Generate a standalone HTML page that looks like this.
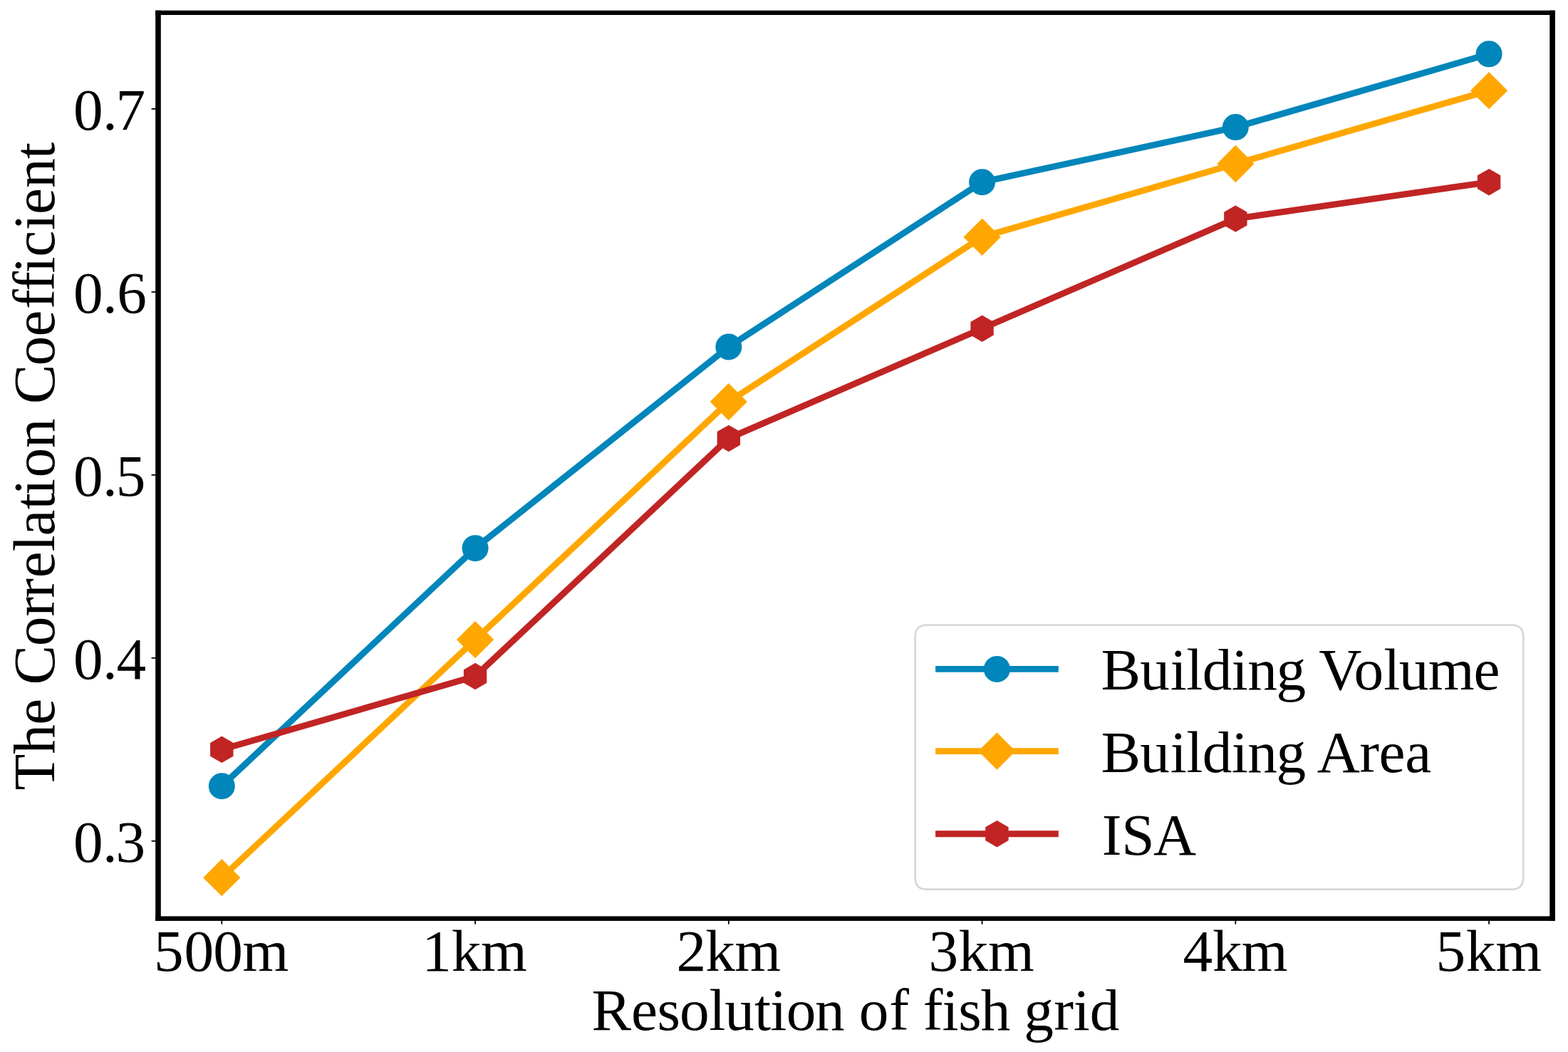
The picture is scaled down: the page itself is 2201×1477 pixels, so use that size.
<!DOCTYPE html>
<html lang="en"><head><meta charset="utf-8"><title>The Correlation Coefficient vs Resolution of fish grid</title>
<style>
html,body{margin:0;padding:0;background:#fff;}
body{width:2201px;height:1477px;overflow:hidden;}
svg{display:block;}
text{font-family:"Liberation Serif","Times New Roman",serif;font-size:83.33px;fill:#000;font-kerning:none;font-variant-ligatures:none;font-feature-settings:"liga" 0,"kern" 0;white-space:pre;}
</style></head><body>
<svg width="2201" height="1477" viewBox="0 0 2201 1477">
<rect x="0" y="0" width="2201" height="1477" fill="#fff"/>
<g id="series">
<polyline points="311.30,1103.70 667.06,769.64 1022.82,486.97 1378.58,255.70 1734.34,178.61 2090.10,75.82" fill="none" stroke="#0086ba" stroke-width="8.9" stroke-linejoin="round" stroke-linecap="square"/>
<circle cx="311.30" cy="1103.70" r="17.10" fill="#0086ba" stroke="#0086ba" stroke-width="2.78"/>
<circle cx="667.06" cy="769.64" r="17.10" fill="#0086ba" stroke="#0086ba" stroke-width="2.78"/>
<circle cx="1022.82" cy="486.97" r="17.10" fill="#0086ba" stroke="#0086ba" stroke-width="2.78"/>
<circle cx="1378.58" cy="255.70" r="17.10" fill="#0086ba" stroke="#0086ba" stroke-width="2.78"/>
<circle cx="1734.34" cy="178.61" r="17.10" fill="#0086ba" stroke="#0086ba" stroke-width="2.78"/>
<circle cx="2090.10" cy="75.82" r="17.10" fill="#0086ba" stroke="#0086ba" stroke-width="2.78"/>
<polyline points="311.30,1232.18 667.06,898.12 1022.82,564.06 1378.58,332.79 1734.34,230.00 2090.10,127.21" fill="none" stroke="#ffa700" stroke-width="8.9" stroke-linejoin="round" stroke-linecap="square"/>
<polygon points="311.30,1208.00 335.48,1232.18 311.30,1256.36 287.12,1232.18" fill="#ffa700" stroke="#ffa700" stroke-width="2.78" stroke-linejoin="miter"/>
<polygon points="667.06,873.94 691.24,898.12 667.06,922.30 642.88,898.12" fill="#ffa700" stroke="#ffa700" stroke-width="2.78" stroke-linejoin="miter"/>
<polygon points="1022.82,539.88 1047.00,564.06 1022.82,588.24 998.64,564.06" fill="#ffa700" stroke="#ffa700" stroke-width="2.78" stroke-linejoin="miter"/>
<polygon points="1378.58,308.60 1402.76,332.79 1378.58,356.97 1354.40,332.79" fill="#ffa700" stroke="#ffa700" stroke-width="2.78" stroke-linejoin="miter"/>
<polygon points="1734.34,205.82 1758.52,230.00 1734.34,254.18 1710.16,230.00" fill="#ffa700" stroke="#ffa700" stroke-width="2.78" stroke-linejoin="miter"/>
<polygon points="2090.10,103.03 2114.28,127.21 2090.10,151.40 2065.92,127.21" fill="#ffa700" stroke="#ffa700" stroke-width="2.78" stroke-linejoin="miter"/>
<polyline points="311.30,1052.30 667.06,949.52 1022.82,615.45 1378.58,461.27 1734.34,307.09 2090.10,255.70" fill="none" stroke="#c02524" stroke-width="8.9" stroke-linejoin="round" stroke-linecap="square"/>
<polygon points="311.30,1035.20 296.49,1043.75 296.49,1060.85 311.30,1069.40 326.11,1060.85 326.11,1043.75" fill="#c02524" stroke="#c02524" stroke-width="2.78" stroke-linejoin="miter"/>
<polygon points="667.06,932.42 652.25,940.97 652.25,958.07 667.06,966.62 681.87,958.07 681.87,940.97" fill="#c02524" stroke="#c02524" stroke-width="2.78" stroke-linejoin="miter"/>
<polygon points="1022.82,598.35 1008.01,606.90 1008.01,624.00 1022.82,632.55 1037.63,624.00 1037.63,606.90" fill="#c02524" stroke="#c02524" stroke-width="2.78" stroke-linejoin="miter"/>
<polygon points="1378.58,444.17 1363.77,452.72 1363.77,469.82 1378.58,478.37 1393.39,469.82 1393.39,452.72" fill="#c02524" stroke="#c02524" stroke-width="2.78" stroke-linejoin="miter"/>
<polygon points="1734.34,289.99 1719.53,298.54 1719.53,315.64 1734.34,324.19 1749.15,315.64 1749.15,298.54" fill="#c02524" stroke="#c02524" stroke-width="2.78" stroke-linejoin="miter"/>
<polygon points="2090.10,238.60 2075.29,247.15 2075.29,264.25 2090.10,272.80 2104.91,264.25 2104.91,247.15" fill="#c02524" stroke="#c02524" stroke-width="2.78" stroke-linejoin="miter"/>
</g>
<g id="spines" fill="#000">
<rect x="218.2" y="14.7" width="7.60" height="1278.20"/>
<rect x="2175.3" y="14.7" width="7.60" height="1278.20"/>
<rect x="218.2" y="14.7" width="1964.70" height="6.30"/>
<rect x="218.2" y="1286.4" width="1964.70" height="6.50"/>
</g>
<g id="ticks" fill="#000">
<rect x="212.6" y="1179.89" width="7" height="1.8"/>
<rect x="212.6" y="922.92" width="7" height="1.8"/>
<rect x="212.6" y="665.95" width="7" height="1.8"/>
<rect x="212.6" y="408.98" width="7" height="1.8"/>
<rect x="212.6" y="152.01" width="7" height="1.8"/>
<rect x="310.40" y="1290" width="1.8" height="7.6"/>
<rect x="666.16" y="1290" width="1.8" height="7.6"/>
<rect x="1021.92" y="1290" width="1.8" height="7.6"/>
<rect x="1377.68" y="1290" width="1.8" height="7.6"/>
<rect x="1733.44" y="1290" width="1.8" height="7.6"/>
<rect x="2089.20" y="1290" width="1.8" height="7.6"/>
</g>
<text x="103.07 144.03 162.47" y="181.91">0.7</text>
<text x="103.07 144.03 164.37" y="438.88">0.6</text>
<text x="103.07 144.03 162.67" y="695.85">0.5</text>
<text x="103.07 144.03 163.40" y="952.82">0.4</text>
<text x="103.07 144.03 162.50" y="1209.79">0.3</text>
<text x="216.02 258.47 299.37 340.47" y="1362.80">500m</text>
<text x="592.36 633.82 674.97" y="1362.80">1km</text>
<text x="949.39 990.22 1031.17" y="1362.80">2km</text>
<text x="1303.55 1345.62 1386.97" y="1362.80">3km</text>
<text x="1660.40 1702.12 1742.82" y="1362.80">4km</text>
<text x="2015.57 2057.72 2099.27" y="1362.80">5km</text>
<text x="830.62 886.07 922.43 953.92 995.17 1017.28 1058.91 1081.29 1103.67 1144.04 1185.71 1205.67 1248.24 1275.99 1295.74 1322.49 1345.23 1376.76 1418.42 1437.17 1479.26 1506.79 1529.67" y="1446.20">Resolution of fish grid</text>
<g transform="translate(76.4,1200.0) rotate(-90)"><text x="90.44 141.16 182.17 219.16 238.45 292.77 334.31 360.31 388.82 425.62 447.61 484.71 504.79 529.47 570.74 612.41 632.75 686.52 727.62 766.04 791.29 816.54 839.30 876.89 898.97 936.09 977.01" y="0.00">The Correlation Coefficient</text></g>
<path d="M1301.26,877.50 L2121.60,877.50 Q2138.30,877.50 2138.30,894.20 L2138.30,1231.90 Q2138.30,1248.60 2121.60,1248.60 L1301.26,1248.60 Q1284.56,1248.60 1284.56,1231.90 L1284.56,894.20 Q1284.56,877.50 1301.26,877.50 Z" fill="#fff" stroke="#d6d6d6" stroke-width="2.6"/>
<line x1="1313.1" y1="939.4" x2="1485.8" y2="939.4" stroke="#0086ba" stroke-width="8.9"/>
<circle cx="1399.40" cy="939.40" r="17.10" fill="#0086ba" stroke="#0086ba" stroke-width="2.78"/>
<text x="1545.39 1600.13 1642.79 1665.37 1687.87 1728.69 1751.19 1791.47 1833.14 1851.31 1900.62 1942.37 1963.68 2004.67 2068.62" y="968.00">Building Volume</text>
<line x1="1313.1" y1="1054.6" x2="1485.8" y2="1054.6" stroke="#ffa700" stroke-width="8.9"/>
<polygon points="1399.40,1030.42 1423.58,1054.60 1399.40,1078.78 1375.22,1054.60" fill="#ffa700" stroke="#ffa700" stroke-width="2.78" stroke-linejoin="miter"/>
<text x="1545.39 1600.13 1642.79 1665.37 1687.87 1728.69 1751.19 1791.47 1833.14 1848.66 1908.26 1935.42 1972.31" y="1083.60">Building Area</text>
<line x1="1313.1" y1="1170.7" x2="1485.8" y2="1170.7" stroke="#c02524" stroke-width="8.9"/>
<polygon points="1399.40,1153.60 1384.59,1162.15 1384.59,1179.25 1399.40,1187.80 1414.21,1179.25 1414.21,1162.15" fill="#c02524" stroke="#c02524" stroke-width="2.78" stroke-linejoin="miter"/>
<text x="1546.63 1574.22 1619.06" y="1199.60">ISA</text>
</svg></body></html>
